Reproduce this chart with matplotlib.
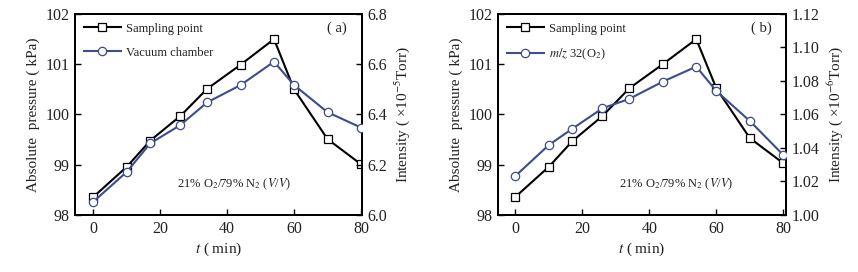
import numpy as np
import matplotlib
matplotlib.use("Agg")
import matplotlib.pyplot as plt

plt.rcParams["font.family"] = "Liberation Serif"
plt.rcParams["mathtext.fontset"] = "stix"

# time axis (min)
t = [0, 10, 17, 26, 34, 44, 54, 60, 70, 80]

# sampling point pressure (kPa)
p_a = [98.36, 98.96, 99.48, 99.97, 100.51, 100.99, 101.50, 100.50, 99.51, 99.01]
p_b = [98.36, 98.96, 99.47, 99.97, 100.52, 101.00, 101.50, 100.52, 99.53, 99.03]

# vacuum chamber intensity (x1e-5 Torr)
vac = [6.053, 6.172, 6.285, 6.358, 6.448, 6.517, 6.610, 6.517, 6.409, 6.348]
# m/z 32 intensity (x1e-6 Torr)
o2 = [1.0233, 1.0418, 1.0515, 1.0637, 1.0693, 1.0796, 1.0886, 1.074, 1.0561, 1.0358]

BLUE = "#3d4c8a"
TXT = "#222222"


def style_ax(ax):
    for s in ax.spines.values():
        s.set_linewidth(1.4)
    ax.tick_params(direction="in", length=4, width=1.0, labelsize=11.5,
                   top=False, labelcolor=TXT, pad=4)


def panel(rect, p, intens, ylim2, yticks2, lab2, rlabel, tag, xlim, note_x):
    ax = fig.add_axes(rect)
    ax2 = ax.twinx()
    l1, = ax.plot(t, p, color="black", lw=1.5, marker="s", ms=5.5,
                  mfc="white", mec="black", mew=0.9, zorder=3)
    l2, = ax2.plot(t, intens, color=BLUE, lw=1.5, marker="o", ms=6.0,
                   mfc="white", mec=BLUE, mew=0.9, zorder=3)
    ax.set_xlim(*xlim)
    ax.set_ylim(98, 102)
    ax.set_yticks([98, 99, 100, 101, 102])
    ax.set_xticks([0, 20, 40, 60, 80])
    ax2.set_ylim(*ylim2)
    ax2.set_yticks(yticks2)
    style_ax(ax)
    style_ax(ax2)
    ax.set_xlabel("$t$ ( min)", fontsize=11, labelpad=3, color=TXT)
    ax.set_ylabel("Absolute  pressure ( kPa)", fontsize=11, labelpad=4, color=TXT)
    ax2.set_ylabel(rlabel, fontsize=11, labelpad=4, color=TXT)
    ax.text(xlim[1] - 7.5, 101.72, tag, fontsize=10.5, ha="center", va="center",
            color=TXT)
    ax.text(note_x, 98.62, "21% O$_2$/79% N$_2$ ($V$/$V$)", fontsize=9,
            ha="center", va="center", color=TXT)
    leg = ax.legend([l1, l2], ["Sampling point", lab2], loc="upper left",
                    frameon=False, fontsize=9, handlelength=3.0,
                    labelspacing=0.95, borderaxespad=0.3, handletextpad=0.4)
    for tx in leg.get_texts():
        tx.set_color(TXT)
    return ax


fig = plt.figure(figsize=(8.58, 2.72), dpi=100)

panel([0.0874, 0.2096, 0.3345, 0.739], p_a, vac, (6.0, 6.8),
      [6.0, 6.2, 6.4, 6.6, 6.8], "Vacuum chamber",
      "Intensity ( ×10$^{-5}$Torr)", "( a)", (-5.5, 80.3), 42)

panel([0.5804, 0.2096, 0.3357, 0.739], p_b, o2, (1.00, 1.12),
      [1.00, 1.02, 1.04, 1.06, 1.08, 1.10, 1.12], "$m/z$ 32(O$_2$)",
      "Intensity ( ×10$^{-6}$Torr)", "( b)", (-5.2, 80.8), 48)

fig.savefig("out.png", dpi=100)
